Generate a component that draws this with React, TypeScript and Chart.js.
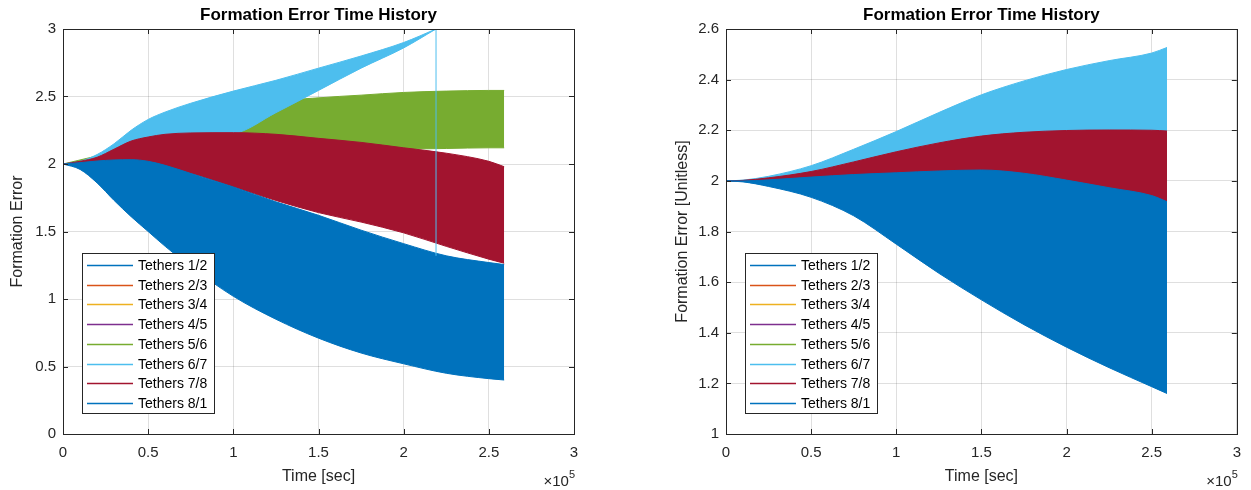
import React, { useEffect, useRef } from 'react';
import { Chart, registerables } from 'chart.js';

Chart.register(...registerables);

const FONT = '"Liberation Sans", Arial, Helvetica, sans-serif';
const INK = '#262626';
const GRID = 'rgba(38,38,38,0.15)';

// ---------- legend ----------
const LEGEND_LABELS = ['Tethers 1/2', 'Tethers 2/3', 'Tethers 3/4', 'Tethers 4/5', 'Tethers 5/6', 'Tethers 6/7', 'Tethers 7/8', 'Tethers 8/1'];
const LEGEND_COLORS = ['#0072BD', '#D95319', '#EDB120', '#7E2F8E', '#77AC30', '#4DBEEE', '#A2142F', '#0072BD'];

// ---------- ticks ----------
const X_TICKS = [0, 50000, 100000, 150000, 200000, 250000, 300000];
const LEFT_Y_TICKS = [0, 0.5, 1, 1.5, 2, 2.5, 3];
const RIGHT_Y_TICKS = [1, 1.2, 1.4, 1.6, 1.8, 2, 2.2, 2.4, 2.6];

// ---------- left panel (envelopes of the oscillating signals) ----------
const L_BLUE_T = [0, 10000, 20000, 30000, 40000, 50000, 60000, 75000, 100000, 125000, 150000, 175000, 200000, 225000, 250000, 259000];
const L_BLUE_HI = [2, 2.01, 2.022, 2.03, 2.032, 2.02, 1.99, 1.93, 1.83, 1.72, 1.62, 1.51, 1.41, 1.32, 1.27, 1.255];
const L_BLUE_LO = [2, 1.96, 1.86, 1.73, 1.61, 1.5, 1.39, 1.24, 1.02, 0.85, 0.71, 0.6, 0.52, 0.45, 0.41, 0.4];

const L_RED_T = [0, 10000, 20000, 30000, 40000, 50000, 60000, 75000, 100000, 125000, 150000, 175000, 200000, 225000, 250000, 259000];
const L_RED_HI = [2, 2.02, 2.05, 2.11, 2.17, 2.2, 2.22, 2.23, 2.232, 2.22, 2.19, 2.16, 2.12, 2.08, 2.02, 1.98];
const L_RED_LO = [2, 2, 2, 2, 2, 1.99, 1.97, 1.93, 1.83, 1.73, 1.64, 1.57, 1.49, 1.39, 1.295, 1.265];

const L_GREEN_T = [0, 50000, 100000, 120000, 135000, 150000, 175000, 200000, 225000, 250000, 259000];
const L_GREEN_HI = [2, 2.15, 2.3, 2.4, 2.47, 2.49, 2.51, 2.53, 2.54, 2.545, 2.545];
const L_GREEN_LO = [2, 2, 2.02, 2.04, 2.06, 2.08, 2.1, 2.11, 2.115, 2.12, 2.12];

const L_CYAN_T = [0, 10000, 20000, 30000, 40000, 50000, 60000, 75000, 100000, 125000, 150000, 175000, 200000, 219000];
const L_CYAN_HI = [2, 2.02, 2.07, 2.15, 2.25, 2.33, 2.385, 2.45, 2.54, 2.62, 2.71, 2.8, 2.9, 3.0];
const L_CYAN_LO = [2, 2.01, 2.03, 2.07, 2.12, 2.16, 2.19, 2.21, 2.225, 2.38, 2.545, 2.71, 2.86, 3.0];

const L_SPIKE_T = [219000, 219000];
const L_SPIKE_Y = [1.32, 3.3];

// ---------- right panel ----------
const R_T = [0, 10000, 25000, 50000, 75000, 100000, 125000, 150000, 175000, 200000, 225000, 250000, 259000];
const R_BLUE_HI = [2, 2.0, 2.004, 2.015, 2.025, 2.032, 2.039, 2.043, 2.03, 2.003, 1.973, 1.942, 1.918];
const R_BLUE_LO = [2, 1.996, 1.978, 1.935, 1.862, 1.75, 1.635, 1.53, 1.432, 1.343, 1.262, 1.187, 1.16];
const R_RED_HI = [2, 2.002, 2.012, 2.037, 2.075, 2.115, 2.15, 2.177, 2.192, 2.199, 2.201, 2.2, 2.197];
const R_RED_LO = [2, 1.998, 1.995, 2.0, 2.005, 2.01, 2.015, 2.02, 2.01, 1.98, 1.95, 1.92, 1.9];
const R_CYAN_HI = [2, 2.003, 2.018, 2.06, 2.125, 2.195, 2.27, 2.34, 2.395, 2.44, 2.475, 2.505, 2.527];
const R_CYAN_LO = [2, 2.0, 2.005, 2.025, 2.06, 2.1, 2.13, 2.16, 2.175, 2.18, 2.18, 2.18, 2.18];

const C_BLUE = '#0072BD';
const C_RED = '#A2142F';
const C_GREEN = '#77AC30';
const C_CYAN = '#4DBEEE';

function pts(t: number[], y: number[]) {
  return t.map((x, i) => ({ x, y: y[i] }));
}

function band(label: string, color: string, t: number[], hi: number[], lo: number[], order: number) {
  const common = { borderColor: color, backgroundColor: color, borderWidth: 1, pointRadius: 0, order, cubicInterpolationMode: 'monotone' };
  return [
    { ...common, label, data: pts(t, hi), fill: '+1' },
    { ...common, label: label + ' (min)', data: pts(t, lo), fill: false },
  ];
}

function fmt(v: number) {
  const r = Math.round(v * 10) / 10;
  return String(r);
}

const decor = {
  id: 'matlabDecor',
  afterDatasetsDraw(chart: any) {
    const { ctx, chartArea: a, scales } = chart;
    ctx.save();
    ctx.strokeStyle = INK;
    ctx.lineWidth = 1;
    const tl = 5;
    ctx.beginPath();
    scales.x.ticks.forEach((t: any) => {
      const px = Math.round(scales.x.getPixelForValue(t.value)) + 0.5;
      ctx.moveTo(px, a.bottom);
      ctx.lineTo(px, a.bottom - tl);
      ctx.moveTo(px, a.top);
      ctx.lineTo(px, a.top + tl);
    });
    scales.y.ticks.forEach((t: any) => {
      const py = Math.round(scales.y.getPixelForValue(t.value)) + 0.5;
      ctx.moveTo(a.left, py);
      ctx.lineTo(a.left + tl, py);
      ctx.moveTo(a.right, py);
      ctx.lineTo(a.right - tl, py);
    });
    ctx.stroke();
    ctx.strokeRect(Math.round(a.left) + 0.5, Math.round(a.top) + 0.5, Math.round(a.right - a.left), Math.round(a.bottom - a.top));
    ctx.restore();
  },
  afterDraw(chart: any, _args: any, opts: any) {
    const { ctx, chartArea: a } = chart;
    ctx.save();
    // title
    ctx.fillStyle = '#000';
    ctx.font = `bold 17px ${FONT}`;
    ctx.textAlign = 'center';
    ctx.textBaseline = 'middle';
    ctx.fillText(opts.title, (a.left + a.right) / 2, 15);
    // exponent
    ctx.fillStyle = INK;
    ctx.textBaseline = 'alphabetic';
    ctx.textAlign = 'right';
    ctx.font = `11px ${FONT}`;
    const sx = a.right + 1;
    ctx.fillText('5', sx, 478);
    const w5 = ctx.measureText('5').width;
    ctx.font = `15px ${FONT}`;
    ctx.fillText('×10', sx - w5, 486);
    // legend
    const bw = 132;
    const bh = 160;
    const bx = Math.round(a.left + 19);
    const by = Math.round(a.bottom - 21 - bh);
    ctx.fillStyle = '#fff';
    ctx.fillRect(bx, by, bw, bh);
    ctx.strokeStyle = INK;
    ctx.lineWidth = 1;
    ctx.strokeRect(bx + 0.5, by + 0.5, bw, bh);
    ctx.font = `14px ${FONT}`;
    ctx.textAlign = 'left';
    ctx.textBaseline = 'middle';
    const labels: string[] = opts.labels;
    const colors: string[] = opts.colors;
    labels.forEach((lab, i) => {
      const cy = Math.round(by + 12 + i * 19.7) + 0.5;
      ctx.strokeStyle = colors[i];
      ctx.lineWidth = 1.5;
      ctx.beginPath();
      ctx.moveTo(bx + 5, cy);
      ctx.lineTo(bx + 51, cy);
      ctx.stroke();
      ctx.fillStyle = '#000';
      ctx.fillText(lab, bx + 56, cy + 1);
    });
    ctx.restore();
  },
};

function makeConfig(p: {
  datasets: any[];
  yMin: number;
  yMax: number;
  yTicks: number[];
  yTitle: string;
  yWidth: number;
  yTitlePad: number;
  padRight: number;
}) {
  return {
    type: 'line',
    data: { datasets: p.datasets },
    options: {
      responsive: false,
      animation: false,
      events: [],
      layout: { padding: { top: 29, right: p.padRight, left: 0, bottom: 0 } },
      plugins: {
        legend: { display: false },
        tooltip: { enabled: false },
        title: { display: false },
        matlabDecor: { title: 'Formation Error Time History', labels: LEGEND_LABELS, colors: LEGEND_COLORS },
      },
      scales: {
        x: {
          type: 'linear',
          min: 0,
          max: 300000,
          afterBuildTicks: (s: any) => { s.ticks = X_TICKS.map((v) => ({ value: v })); },
          afterFit: (s: any) => { s.height = 56; },
          ticks: {
            autoSkip: false,
            maxRotation: 0,
            padding: 10,
            color: INK,
            font: { family: FONT, size: 15 },
            callback: (v: number) => fmt(v / 100000),
          },
          grid: { color: GRID, drawTicks: false },
          border: { display: false },
          title: { display: true, text: 'Time [sec]', color: INK, font: { family: FONT, size: 16 }, padding: { top: 0, bottom: 4 } },
        },
        y: {
          type: 'linear',
          min: p.yMin,
          max: p.yMax,
          afterBuildTicks: (s: any) => { s.ticks = p.yTicks.map((v) => ({ value: v })); },
          afterFit: (s: any) => { s.width = p.yWidth; },
          ticks: {
            autoSkip: false,
            padding: 7,
            color: INK,
            font: { family: FONT, size: 15 },
            callback: (v: number) => fmt(v),
          },
          grid: { color: GRID, drawTicks: false },
          border: { display: false },
          title: { display: true, text: p.yTitle, color: INK, font: { family: FONT, size: 16 }, padding: { top: p.yTitlePad, bottom: 0 } },
        },
      },
    },
    plugins: [decor],
  } as any;
}

const leftDatasets = [
  ...band('Tethers 5/6', C_GREEN, L_GREEN_T, L_GREEN_HI, L_GREEN_LO, 4),
  ...band('Tethers 6/7', C_CYAN, L_CYAN_T, L_CYAN_HI, L_CYAN_LO, 3),
  ...band('Tethers 7/8', C_RED, L_RED_T, L_RED_HI, L_RED_LO, 2),
  ...band('Tethers 8/1', C_BLUE, L_BLUE_T, L_BLUE_HI, L_BLUE_LO, 1),
  { label: 'Tethers 6/7 (end)', data: pts(L_SPIKE_T, L_SPIKE_Y), borderColor: C_CYAN, borderWidth: 1, pointRadius: 0, fill: false, order: 0 },
];

const rightDatasets = [
  ...band('Tethers 6/7', C_CYAN, R_T, R_CYAN_HI, R_CYAN_LO, 3),
  ...band('Tethers 7/8', C_RED, R_T, R_RED_HI, R_RED_LO, 2),
  ...band('Tethers 8/1', C_BLUE, R_T, R_BLUE_HI, R_BLUE_LO, 1),
];

export default function App() {
  const leftRef = useRef<HTMLCanvasElement>(null);
  const rightRef = useRef<HTMLCanvasElement>(null);

  useEffect(() => {
    const c1 = new Chart(leftRef.current as HTMLCanvasElement, makeConfig({
      datasets: leftDatasets,
      yMin: 0,
      yMax: 3,
      yTicks: LEFT_Y_TICKS,
      yTitle: 'Formation Error',
      yWidth: 63,
      yTitlePad: 8,
      padRight: 51,
    }));
    const c2 = new Chart(rightRef.current as HTMLCanvasElement, makeConfig({
      datasets: rightDatasets,
      yMin: 1,
      yMax: 2.6,
      yTicks: RIGHT_Y_TICKS,
      yTitle: 'Formation Error [Unitless]',
      yWidth: 101,
      yTitlePad: 48,
      padRight: 8,
    }));
    return () => {
      c1.destroy();
      c2.destroy();
    };
  }, []);

  return (
    <div style={{ position: 'absolute', left: 0, top: 0, width: 1251, height: 490, background: '#fff' }}>
      <canvas ref={leftRef} width={625} height={490} style={{ position: 'absolute', left: 0, top: 0, width: 625, height: 490 }} />
      <canvas ref={rightRef} width={626} height={490} style={{ position: 'absolute', left: 625, top: 0, width: 626, height: 490 }} />
    </div>
  );
}
